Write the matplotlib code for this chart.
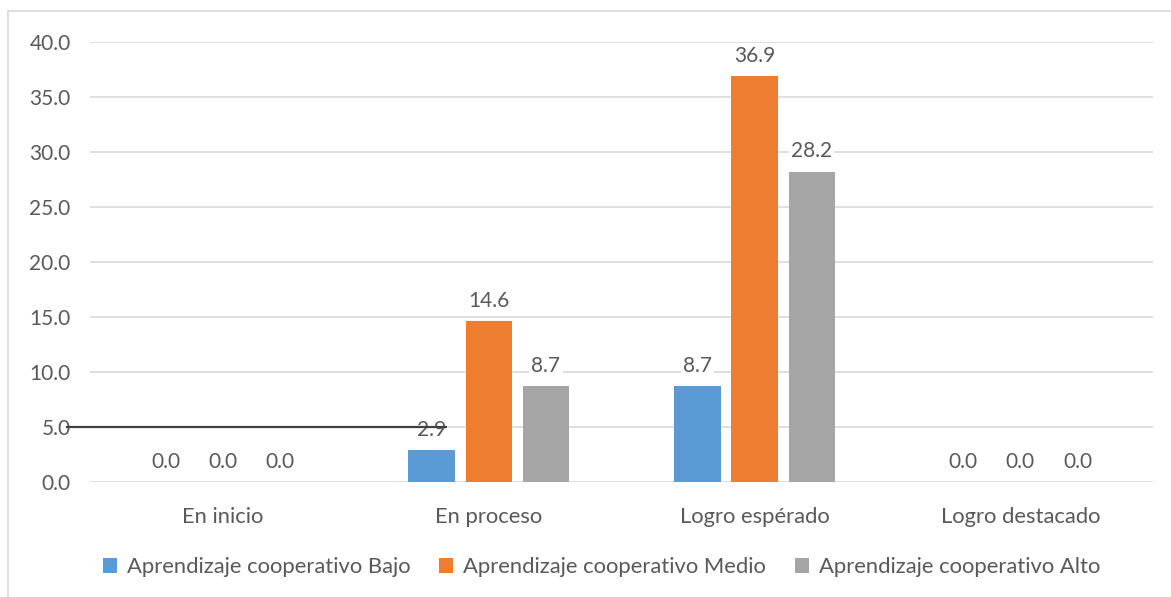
import matplotlib.pyplot as plt
import numpy as np
from matplotlib.patches import Rectangle

plt.rcParams['font.family'] = ['Lato', 'DejaVu Sans']

categories = ['En inicio', 'En proceso', 'Logro espérado', 'Logro destacado']
series_names = ['Aprendizaje cooperativo Bajo', 'Aprendizaje cooperativo Medio', 'Aprendizaje cooperativo Alto']
bajo = [0.0, 2.9, 8.7, 0.0]
medio = [0.0, 14.6, 36.9, 0.0]
alto = [0.0, 8.7, 28.2, 0.0]
colors = ['#5B9BD5', '#ED7D31', '#A5A5A5']
yticks = [0, 5, 10, 15, 20, 25, 30, 35, 40]
stray_line_y = 5.0

txt = '#595959'

fig = plt.figure(figsize=(11.71, 5.97), dpi=100)
ax = fig.add_axes([0.0769, 0.1926, 0.908, 0.737])

# outer chart frame (cut off at right and bottom)
fig.patches.append(Rectangle((8 / 1171, -0.01), 1.0, 1 - 11 / 597 + 0.01,
                             transform=fig.transFigure, fill=False,
                             edgecolor='#D9D9D9', linewidth=1.2))

x = np.arange(len(categories))
pitch = 0.215
width = 0.174
for i, (vals, name, c) in enumerate(zip([bajo, medio, alto], series_names, colors)):
    pos = x + (i - 1) * pitch
    ax.bar(pos, vals, width, color=c, label=name, zorder=3)
    for xp, v in zip(pos, vals):
        ax.annotate(f'{v:.1f}', (xp, v), xytext=(0, 7.5), textcoords='offset points',
                    ha='center', va='bottom', fontsize=15, color=txt, zorder=4,
                    bbox=dict(boxstyle='square,pad=0.1', fc='white', ec='none'))

ax.set_xlim(-0.5, 3.5)
ax.set_ylim(0, 40)
ax.set_yticks(yticks)
ax.set_yticklabels([f'{t:.1f}' for t in yticks])
ax.set_xticks(x)
ax.set_xticklabels(categories)
ax.tick_params(length=0, colors=txt)
ax.tick_params(axis='y', labelsize=15, pad=14)
ax.tick_params(axis='x', labelsize=15.8, pad=18)
ax.grid(axis='y', color='#D9D9D9', linewidth=1.2, zorder=0)
for s in ax.spines.values():
    s.set_visible(False)

# stray line drawn over the chart
ax.plot([-0.587, 0.84], [stray_line_y, stray_line_y], color='#404040', linewidth=1.6,
        clip_on=False, zorder=10)

ax.legend(loc='center', bbox_to_anchor=(0.481, -0.193), ncol=3, frameon=False,
          fontsize=15.8, labelcolor=txt, handlelength=0.65, handleheight=0.65,
          handletextpad=0.45, columnspacing=1.3)

fig.savefig('out.png', dpi=100)
